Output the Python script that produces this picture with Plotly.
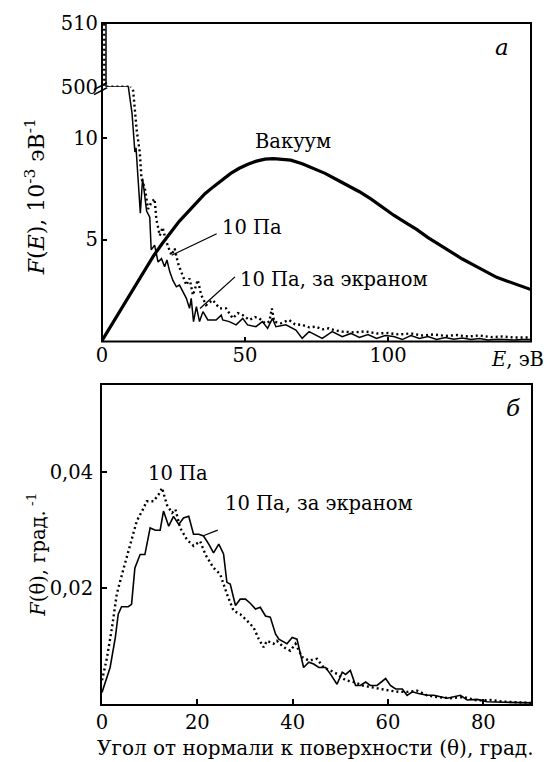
import plotly.graph_objects as go

# ---------------- data ----------------
# panel a: energy distributions F(E), 10^-3 eV^-1
vac_E = [0, 3, 6, 9, 12, 15, 18, 21, 24, 27, 30, 33, 36, 39, 42, 45, 48, 51, 54, 57, 60, 63, 66,
         70, 74, 78, 82, 86, 90, 94, 98, 102, 106, 110, 114, 118, 122, 126, 130, 134, 138, 142, 146, 150]
vac_F = [0.05, 0.75, 1.45, 2.15, 2.85, 3.55, 4.2, 4.8, 5.35, 5.9, 6.35, 6.8, 7.25, 7.6, 7.95, 8.25,
         8.5, 8.7, 8.85, 8.95, 8.97, 8.95, 8.9, 8.72, 8.5, 8.25, 7.95, 7.65, 7.35, 7.0, 6.6, 6.2,
         5.85, 5.5, 5.1, 4.75, 4.4, 4.05, 3.75, 3.45, 3.15, 2.95, 2.75, 2.55]

pa_E = [0.0, 0.8, 0.8, 10.1, 10.1, 10.9, 12.1, 13.2, 13.8, 15.0, 16.1, 17.3, 18.4, 19.0, 20.2,
        21.2, 21.9, 23.0, 24.3, 25.4, 26.6, 28.3, 29.5, 30.6, 31.8, 33.5, 34.7, 36.4, 38.7, 41.1,
        43.4, 45.7, 47.5, 49.2, 51.5, 53.5, 55.0, 57.0, 58.5, 59.4, 60.2, 62.5, 65.4, 67.5, 70.0,
        72.5, 74.7, 77.0, 79.3, 81.5, 84.0, 88, 92, 96, 100, 104, 108, 112, 116, 120, 124, 128,
        132, 136, 140, 144, 148, 150]
pa_F = [515, 515, 500, 500, 12.5, 12.3, 10.4, 9.3, 8.0, 7.5, 6.5, 6.84, 7.0, 6.0, 5.2,
        5.6, 5.2, 4.7, 4.24, 4.56, 3.83, 3.26, 2.77, 3.1, 2.28, 3.02, 2.28, 1.79, 2.04, 1.63,
        1.63, 1.14, 1.4, 1.3, 1.06, 1.2, 1.14, 0.9, 0.98, 1.63, 0.98, 0.9, 1.06, 0.85, 0.82,
        0.7, 0.73, 0.6, 0.65, 0.55, 0.49, 0.45, 0.5, 0.4, 0.42, 0.35, 0.4, 0.3, 0.35, 0.28, 0.32, 0.25,
        0.3, 0.22, 0.25, 0.2, 0.22, 0.2]

scr_E = [0.0, 1.4, 1.4, 9.2, 9.2, 10.5, 11.5, 11.9, 12.6, 13.4, 14.2, 14.8, 15.6, 16.7, 17.2,
         18.4, 19.6, 20.8, 21.9, 22.7, 23.7, 24.8, 26.0, 27.1, 28.3, 29.5, 30.6, 31.2, 32.0, 33.0,
         34.1, 35.3, 37.0, 39.9, 41.7, 42.2, 44.5, 46.9, 49.2, 50.9, 53.8, 56.1, 57.9, 59.6, 60.8,
         64.3, 67.8, 70.0, 72.4, 75.0, 77.0, 80.5, 84.0, 87, 90, 93, 96, 99, 102, 105, 108, 111,
         114, 117, 120, 123, 126, 129, 132, 135, 138, 141, 144, 147, 150]
scr_F = [515, 515, 500, 500, 12.5, 11.2, 9.3, 9.5, 8.0, 6.3, 8.0, 7.3, 6.4, 6.1, 4.5,
         4.73, 3.9, 4.07, 3.67, 4.0, 3.42, 3.0, 2.69, 2.77, 2.44, 2.12, 1.63, 2.12, 0.98, 1.71,
         0.98, 1.47, 1.06, 1.06, 1.3, 1.06, 0.98, 0.82, 1.14, 0.82, 0.73, 0.98, 0.65, 1.14, 0.73,
         0.82, 0.57, 0.16, 0.49, 0.3, 0.16, 0.49, 0.24, 0.4, 0.2, 0.35, 0.15, 0.3, 0.25, 0.1, 0.3, 0.15,
         0.25, 0.1, 0.2, 0.12, 0.18, 0.1, 0.15, 0.08, 0.12, 0.1, 0.08, 0.1, 0.1]

# panel б: angular distributions F(theta), deg^-1
th_pa = [0, 1.0, 2.1, 3.1, 4.2, 5.2, 6.3, 7.3, 8.4, 9.4, 10.8, 11.9, 12.6, 13.6, 14.7, 15.4, 16.4,
         17.8, 19.2, 20.6, 21.7, 23.4, 24.8, 26.2, 27.6, 29.0, 30.4, 31.8, 32.9, 33.9, 34.6, 36.0,
         36.7, 38.1, 39.5, 40.6, 42.0, 43.4, 45.1, 46.5, 47.9, 49.3, 51.1, 52.8, 54.6, 56.3, 58.4,
         60.5, 62.3, 64.0, 66.1, 68.2, 70.3, 73.1, 75.9, 78.7, 81.5, 84.3, 87.1, 90]
Fth_pa = [0.0041, 0.0078, 0.0132, 0.0190, 0.0224, 0.0253, 0.0287, 0.0316, 0.0333, 0.0350, 0.0350,
          0.0362, 0.0373, 0.0344, 0.0330, 0.0336, 0.0304, 0.0284, 0.0273, 0.0281, 0.0258, 0.0235,
          0.0224, 0.0190, 0.0161, 0.0155, 0.0144, 0.0132, 0.0112, 0.0098, 0.0109, 0.0104,
          0.0109, 0.0098, 0.0092, 0.0104, 0.0081, 0.0075, 0.0078, 0.0063, 0.0058, 0.0052, 0.0041,
          0.0038, 0.0032, 0.0029, 0.0026, 0.0023, 0.0021, 0.0021, 0.0023, 0.0015, 0.0012, 0.0010,
          0.0012, 0.0006, 0.0007, 0.0004, 0.0003, 0.0002]

th_scr = [0, 1.7, 2.8, 3.4, 4.1, 5.5, 6.2, 6.9, 8.0, 9.0, 10.1, 11.2, 12.2, 12.9, 14.0, 15.0, 16.1,
          17.1, 18.2, 19.2, 20.3, 21.3, 22.4, 23.4, 24.5, 25.5, 26.2, 26.9, 28.0, 29.0, 30.1, 31.1,
          32.2, 33.2, 34.3, 35.3, 36.4, 37.1, 38.8, 39.9, 40.9, 42.3, 43.4, 44.4, 45.5, 46.9, 47.9,
          49.3, 50.4, 51.1, 52.1, 53.2, 54.2, 55.3, 56.3, 57.7, 59.5, 60.5, 61.6, 63.0, 64.0, 65.1,
          66.4, 68.2, 69.6, 71.0, 72.4, 75.2, 76.6, 78.7, 80.8, 84.3, 87, 90]
Fth_scr = [0.0020, 0.0063, 0.0115, 0.0155, 0.0168, 0.0168, 0.0172, 0.0235, 0.0258, 0.0258, 0.0304,
           0.0300, 0.0300, 0.0333, 0.0307, 0.0324, 0.0310, 0.0321, 0.0324, 0.0293, 0.0293, 0.0290,
           0.0276, 0.0261, 0.0276, 0.0259, 0.0210, 0.0207, 0.0170, 0.0181, 0.0181, 0.0174, 0.0164,
           0.0167, 0.0152, 0.0150, 0.0121, 0.0112, 0.0104, 0.0115, 0.0112, 0.0063, 0.0072, 0.0069,
           0.0063, 0.0063, 0.0052, 0.0034, 0.0055, 0.0051, 0.0058, 0.0032, 0.0032, 0.0038, 0.0032,
           0.0032, 0.0044, 0.0032, 0.0026, 0.0026, 0.0015, 0.0021, 0.0018, 0.0015, 0.0015, 0.0012,
           0.0010, 0.0015, 0.0007, 0.0008, 0.0004, 0.0003, 0.0002, 0.0002]

E_ticks = [0, 50, 100]
F_ticks = [5, 10]
F_break_ticks = [500, 510]
th_ticks = [0, 20, 40, 60, 80]
Fth_ticks = [0.02, 0.04]
Fth_ticktext = ["0,02", "0,04"]

# ---------------- layout geometry ----------------
W, H = 550, 762
ML, MR, MT, MB = 102, 19, 20, 58
PW = W - ML - MR
PH = H - MT - MB


def px(x):
    return (x - ML) / PW


def py(y):
    return (H - MB - y) / PH


FONT = "DejaVu Serif"
FS = 19.5
BLACK = "black"

fig = go.Figure()

# panel a, lower part (x2, y2) and upper part of broken axis (x3, y3)
fig.add_trace(go.Scatter(x=vac_E, y=vac_F, xaxis="x2", yaxis="y2", mode="lines",
                         line=dict(color=BLACK, width=3.2)))
for xa, ya in (("x2", "y2"), ("x3", "y3")):
    fig.add_trace(go.Scatter(x=pa_E, y=pa_F, xaxis=xa, yaxis=ya, mode="lines",
                             line=dict(color=BLACK, width=2.4, dash="2px,3px")))
    fig.add_trace(go.Scatter(x=scr_E, y=scr_F, xaxis=xa, yaxis=ya, mode="lines",
                             line=dict(color=BLACK, width=1.5)))

# panel б
fig.add_trace(go.Scatter(x=th_pa, y=Fth_pa, xaxis="x", yaxis="y", mode="lines",
                         line=dict(color=BLACK, width=2.4, dash="2px,3px")))
fig.add_trace(go.Scatter(x=th_scr, y=Fth_scr, xaxis="x", yaxis="y", mode="lines",
                         line=dict(color=BLACK, width=1.6)))


def tf():
    return dict(family=FONT, size=FS, color=BLACK)


fig.update_layout(
    width=W, height=H, margin=dict(l=ML, r=MR, t=MT, b=MB),
    paper_bgcolor="white", plot_bgcolor="white", showlegend=False,
    # panel б axes
    xaxis=dict(domain=[0, 1], range=[0, 90], tickvals=th_ticks, showline=True, mirror=True,
               linecolor=BLACK, linewidth=2, anchor="y", showgrid=False, zeroline=False,
               tickfont=tf(), ticks="inside", tickcolor=BLACK, tickwidth=1.5, ticklen=5),
    yaxis=dict(domain=[0, py(384)], range=[0, 0.055], tickvals=Fth_ticks, ticktext=Fth_ticktext,
               showline=True, mirror=True, linecolor=BLACK, linewidth=2, anchor="x",
               showgrid=False, zeroline=False, tickfont=tf(), ticks="inside", tickcolor=BLACK,
               tickwidth=1.5, ticklen=5, ticklabelstandoff=3),
    # panel a lower
    xaxis2=dict(domain=[0, 1], range=[0, 150], tickvals=E_ticks, showline=False, anchor="y2",
                showgrid=False, zeroline=False, tickfont=tf(), ticks="inside", tickcolor=BLACK,
                tickwidth=1.5, ticklen=5),
    yaxis2=dict(domain=[py(340), py(84)], range=[0, 12.5], tickvals=F_ticks, showline=False,
                anchor="x2", showgrid=False, zeroline=False, tickfont=tf(), ticks="inside",
                tickcolor=BLACK, tickwidth=1.5, ticklen=5, ticklabelstandoff=3),
    # panel a upper (break)
    xaxis3=dict(domain=[0, 1], range=[0, 150], visible=False, anchor="y3"),
    yaxis3=dict(domain=[py(84), 1], range=[500, 510], tickvals=F_break_ticks, showline=False,
                anchor="x3", showgrid=False, zeroline=False, tickfont=tf(), ticks="",
                ticklabelstandoff=3),
)

shapes = []
# frame of panel a
shapes.append(dict(type="rect", xref="paper", yref="paper", x0=0, x1=1, y0=py(340), y1=1,
                   line=dict(color=BLACK, width=2)))
# axis break marks
for dy in (0, 5):
    shapes.append(dict(type="line", xref="paper", yref="paper",
                       x0=px(94), y0=py(87 + dy), x1=px(107), y1=py(80 + dy),
                       line=dict(color=BLACK, width=1.5)))
# leader lines
shapes.append(dict(type="line", xref="paper", yref="paper", x0=px(216.7), y0=py(231.7),
                   x1=px(171.7), y1=py(253.3), line=dict(color=BLACK, width=1.3)))
shapes.append(dict(type="line", xref="paper", yref="paper", x0=px(235), y0=py(275),
                   x1=px(200), y1=py(306.7), line=dict(color=BLACK, width=1.3)))
shapes.append(dict(type="line", xref="paper", yref="paper", x0=px(217.7), y0=py(529.3),
                   x1=px(203.3), y1=py(535), line=dict(color=BLACK, width=1.3)))
fig.update_layout(shapes=shapes)


def ann(text, x, y, xanchor="center", size=FS, angle=0):
    fig.add_annotation(text=text, x=px(x), y=py(y), xref="paper", yref="paper",
                       xanchor=xanchor, yanchor="middle", showarrow=False, textangle=angle,
                       font=dict(family=FONT, size=size, color=BLACK))


ann("<i>а</i>", 502, 44, size=23)
ann("<i>б</i>", 513, 407, size=23)
ann("Вакуум", 293, 139)
ann("10 Па", 220, 225, xanchor="left")
ann("10 Па, за экраном", 238, 278, xanchor="left")
ann("10 Па", 178, 472)
ann("10 Па, за экраном", 223, 503, xanchor="left")
ann("<i>E</i>, эВ", 546, 358, xanchor="right")
ann("<i>F</i>(<i>E</i>), 10<sup>-3</sup> эВ<sup>-1</sup>", 35, 195, angle=-90, size=22)
ann("<i>F</i>(θ), град.<sup> -1</sup>", 36, 554, angle=-90)
ann("Угол от нормали к поверхности (θ), град.", 315, 748, size=20)

fig.write_html("out.html")
